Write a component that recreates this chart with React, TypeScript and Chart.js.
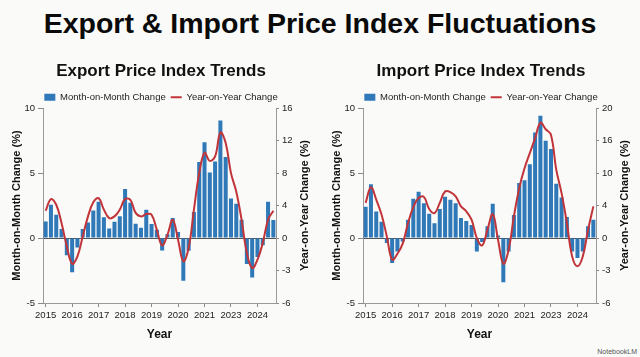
import React, { useEffect, useRef } from 'react';
import { Chart, registerables } from 'chart.js';

Chart.register(...registerables);

const FONT = "'Liberation Sans', Arial, sans-serif";

const yearTickLabels = ['2015', '2016', '2017', '2018', '2019', '2020', '2021', '2023', '2024'];
// 44 periods, a year label every 5th period
const categories: string[] = Array.from({ length: 44 }, (_, i) => (i % 5 === 0 ? yearTickLabels[i / 5] : ''));

const momTicks = [-5, 0, 5, 10];

const exportMoM = [
  1.28, 2.56, 1.8, 0.7, -1.33, -2.64, -0.72, 0.7, 1.2, 2.13, 2.8, 1.6, 0.74, 1.26, 1.67, 3.77, 2.72, 1.1, 0.8, 2.18, 1.08, 0.64,
  -0.95, 0.3, 1.54, 0.46, -3.28, -0.97, 2.0, 5.85, 7.38, 5.05, 5.9, 9.05, 6.23, 3.05, 2.64, 1.41, -2.0, -3.03, -1.46, -0.56, 2.8, 1.38,
];
const exportYoY = [
  3.36, 4.8, 4.1, 1.85, -0.77, -2.37, -1.7, 0.2, 2.67, 4.4, 4.92, 3.5, 2.46, 2.67, 3.5, 4.8, 4.7, 3.1, 2.67, 2.95, 2.87, 1.0,
  -0.68, 0.4, 2.26, -0.15, -2.15, -0.92, 3.5, 8.0, 10.5, 9.5, 10.05, 13.0, 11.7, 8.0, 5.7, 2.26, -1.38, -2.77, -2.0, -0.46, 2.26, 3.36,
];
const exportYoYTicks = [-6, -3, 0, 4, 8, 12, 16];

const importMoM = [
  2.41, 4.15, 2.05, 1.26, -0.38, -1.92, -1.03, -0.26, 1.41, 3.03, 3.56, 2.67, 1.87, 1.13, 2.23, 3.18, 2.95, 2.67, 1.54, 1.31, 1.0, -1.03,
  -0.3, 0.9, 2.64, 0.2, -3.41, -1.03, 1.77, 4.23, 4.44, 5.69, 8.13, 9.41, 7.49, 6.85, 4.18, 3.13, 1.62, -1.03, -1.54, -1.03, 0.9, 1.41,
];
const importYoY = [
  4.5, 7.4, 5.1, 2.9, 0.2, -2.0, -1.45, -0.52, 1.85, 3.8, 5.4, 5.6, 3.57, 3.08, 4.5, 6.6, 6.5, 5.7, 3.9, 3.3, 2.26, 0.0,
  -0.68, 1.03, 2.95, -0.15, -2.37, -1.08, 2.67, 7.2, 10.9, 13.7, 16.3, 18.2, 17.4, 16.7, 10.6, 6.3, 1.85, -1.7, -2.6, -1.7, 1.03, 3.9,
];
const importYoYTicks = [-6, -3, 0, 4, 10, 16, 20];

const BAR_COLOR = '#2f79b8';
const LINE_COLOR = '#c1353a';
const RIGHT_TITLE = 'Year-on-Year Change (%)';

// The right axis has unevenly spaced tick labels on evenly spaced tick marks.
// Map a labelled value onto the tick-mark index scale (zero at index 2).
function toAxisPos(v: number, ticks: number[]): number {
  for (let k = 0; k < ticks.length - 1; k++) {
    if (v <= ticks[k + 1] || k === ticks.length - 2) {
      return k - 2 + (v - ticks[k]) / (ticks[k + 1] - ticks[k]);
    }
  }
  return 0;
}

// Right-axis title reading bottom-to-top, like the left one
const rightTitlePlugin = {
  id: 'rightTitle',
  afterDraw(c: any) {
    const s = c.scales.y2;
    const ctx = c.ctx;
    ctx.save();
    ctx.font = `bold 11px ${FONT}`;
    ctx.fillStyle = '#111';
    ctx.textAlign = 'center';
    ctx.textBaseline = 'middle';
    ctx.translate(s.right - 8.6, (c.chartArea.top + c.chartArea.bottom) / 2);
    ctx.rotate(-Math.PI / 2);
    ctx.fillText(RIGHT_TITLE, 0, 0);
    ctx.restore();
  },
};

function PriceChart(props: { title: string; mom: number[]; yoy: number[]; yoyTicks: number[] }) {
  const ref = useRef<HTMLCanvasElement | null>(null);
  useEffect(() => {
    if (!ref.current) return;
    const { title, mom, yoy, yoyTicks } = props;
    const chart = new Chart(ref.current, {
      type: 'bar',
      data: {
        labels: categories,
        datasets: [
          {
            type: 'bar',
            label: 'Month-on-Month Change',
            data: mom,
            backgroundColor: BAR_COLOR,
            borderWidth: 0,
            categoryPercentage: 1,
            barPercentage: 0.76,
            yAxisID: 'y',
            order: 1,
          } as any,
          {
            type: 'line',
            label: 'Year-on-Year Change',
            data: yoy.map((v) => toAxisPos(v, yoyTicks)),
            borderColor: LINE_COLOR,
            backgroundColor: LINE_COLOR,
            borderWidth: 2,
            tension: 0.4,
            pointRadius: 0,
            yAxisID: 'y2',
            order: 0,
          } as any,
        ],
      },
      plugins: [rightTitlePlugin],
      options: {
        responsive: false,
        animation: false,
        layout: { padding: { left: 8, right: 6, top: 0, bottom: 0 } },
        plugins: {
          title: {
            display: true,
            text: title,
            color: '#111',
            font: { family: FONT, size: 17, weight: 'bold' },
            padding: { top: 1.5, bottom: 5.5 },
          },
          legend: {
            position: 'top',
            maxHeight: 20.75,
            labels: {
              usePointStyle: true,
              pointStyleWidth: 11,
              boxHeight: 7,
              padding: 5,
              color: '#222',
              font: { family: FONT, size: 9.5 },
              generateLabels: (c: any) => {
                const items = Chart.defaults.plugins.legend.labels.generateLabels(c) as any[];
                items.sort((a, b) => a.datasetIndex - b.datasetIndex);
                items.forEach((it) => {
                  if (it.datasetIndex === 0) {
                    it.pointStyle = 'rect';
                    it.lineWidth = 0;
                    it.fillStyle = BAR_COLOR;
                  } else {
                    it.pointStyle = 'line';
                    it.lineWidth = 2;
                    it.strokeStyle = LINE_COLOR;
                  }
                });
                return items;
              },
            },
          },
          tooltip: { enabled: false },
        },
        scales: {
          x: {
            type: 'category',
            offset: true,
            grid: {
              display: true,
              drawOnChartArea: false,
              drawTicks: true,
              tickLength: 4,
              offset: false,
              tickColor: (ctx: any) => (categories[ctx.index] ? '#888' : 'rgba(0,0,0,0)'),
            },
            border: { display: true, color: '#999', width: 1 },
            ticks: {
              autoSkip: false,
              maxRotation: 0,
              minRotation: 0,
              padding: 3,
              color: '#222',
              font: { family: FONT, size: 9.5 },
              callback: (_v: any, i: number) => categories[i],
            },
            title: {
              display: true,
              text: 'Year',
              color: '#111',
              font: { family: FONT, size: 12, weight: 'bold' },
              padding: { top: 0, bottom: 0 },
            },
            afterFit: (s: any) => {
              s.height = 39;
            },
          },
          y: {
            position: 'left',
            min: momTicks[0],
            max: momTicks[momTicks.length - 1],
            ticks: {
              stepSize: 5,
              padding: 3,
              color: '#222',
              font: { family: FONT, size: 9.5 },
            },
            grid: {
              drawOnChartArea: true,
              drawTicks: true,
              tickLength: 5,
              color: (ctx: any) => (ctx.tick && ctx.tick.value === 0 ? '#555' : 'rgba(0,0,0,0)'),
              tickColor: '#888',
            },
            border: { display: true, color: '#999', width: 1 },
            title: {
              display: true,
              text: 'Month-on-Month Change (%)',
              color: '#111',
              font: { family: FONT, size: 11, weight: 'bold' },
              padding: { top: 2, bottom: 0 },
            },
            afterFit: (s: any) => {
              s.width = 35;
            },
          },
          y2: {
            position: 'right',
            min: -2,
            max: 4,
            ticks: {
              stepSize: 1,
              padding: 3,
              color: '#222',
              font: { family: FONT, size: 9.5 },
              callback: (v: any) => String(yoyTicks[Math.round(Number(v)) + 2]),
            },
            grid: {
              drawOnChartArea: false,
              drawTicks: true,
              tickLength: 3,
              tickColor: '#888',
            },
            border: { display: true, color: '#999', width: 1 },
            title: { display: false },
            afterFit: (s: any) => {
              s.width = 38;
            },
          },
        },
      } as any,
    });
    return () => chart.destroy();
  }, []);
  return <canvas ref={ref} width={320} height={282} style={{ display: 'block', width: 320, height: 282 }} />;
}

export default function App() {
  return (
    <div
      style={{
        position: 'absolute',
        left: 0,
        top: 0,
        width: 640,
        height: 357,
        background: '#fafaf8',
        overflow: 'hidden',
        fontFamily: FONT,
      }}
    >
      <div
        style={{
          position: 'absolute',
          top: 9,
          left: 0,
          width: 640,
          textAlign: 'center',
          fontSize: 28.5,
          lineHeight: '28px',
          fontWeight: 'bold',
          color: '#0a0a0a',
        }}
      >
        Export &amp; Import Price Index Fluctuations
      </div>
      <div style={{ position: 'absolute', left: 0, top: 60 }}>
        <PriceChart title="Export Price Index Trends" mom={exportMoM} yoy={exportYoY} yoyTicks={exportYoYTicks} />
      </div>
      <div style={{ position: 'absolute', left: 320, top: 60 }}>
        <PriceChart title="Import Price Index Trends" mom={importMoM} yoy={importYoY} yoyTicks={importYoYTicks} />
      </div>
      <div style={{ position: 'absolute', right: 3, bottom: 2, fontSize: 7, color: '#555' }}>NotebookLM</div>
    </div>
  );
}
